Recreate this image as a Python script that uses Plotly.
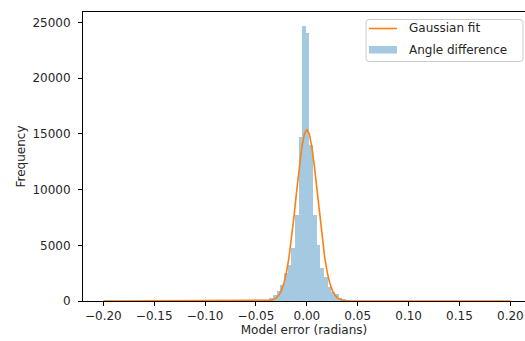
import plotly.graph_objects as go

# Histogram of angle differences (bin centers in radians, counts)
bin_width = 0.0036
bin_centers = [-0.0532, -0.0496, -0.046, -0.0424, -0.0388, -0.0352, -0.0316, -0.028,
               -0.0244, -0.0208, -0.0172, -0.0136, -0.01, -0.0064, -0.0028,
               0.0008, 0.0044, 0.008, 0.0116, 0.0152, 0.0188, 0.0224, 0.026,
               0.0296, 0.0332, 0.0368, 0.0404, 0.044, 0.0476, 0.0512]
bin_counts = [5, 10, 20, 50, 130, 300, 550, 900,
              1400, 2500, 3200, 4800, 7700, 14700, 24700,
              24100, 14000, 7700, 5000, 3000, 2200, 1300, 800,
              600, 300, 180, 80, 40, 20, 8]

# Gaussian fit curve
fit_x = [-0.2, -0.05, -0.045, -0.04, -0.0375, -0.035, -0.0325, -0.03, -0.0275, -0.025,
         -0.0225, -0.02, -0.0175, -0.015, -0.0125, -0.01, -0.0075, -0.005, -0.0025,
         0.0, 0.0025, 0.005, 0.0075, 0.01, 0.0125, 0.015, 0.0175, 0.02, 0.0225,
         0.025, 0.0275, 0.03, 0.0325, 0.035, 0.0375, 0.04, 0.045, 0.05, 0.2]
fit_y = [0, 0, 2, 12, 29, 66, 140, 281, 532, 954,
         1619, 2597, 3941, 5658, 7683, 9869, 11990, 13779, 14978,
         15400, 14978, 13779, 11990, 9869, 7683, 5658, 3941, 2597, 1619,
         954, 532, 281, 140, 66, 29, 12, 2, 0, 0]

x_tickvals = [-0.20, -0.15, -0.10, -0.05, 0.00, 0.05, 0.10, 0.15, 0.20]
x_ticktext = ["\u22120.20", "\u22120.15", "\u22120.10", "\u22120.05", "0.00",
              "0.05", "0.10", "0.15", "0.20"]
y_tickvals = [0, 5000, 10000, 15000, 20000, 25000]
y_ticktext = ["0", "5000", "10000", "15000", "20000", "25000"]

legend_labels = ["Gaussian fit", "Angle difference"]

FONT = "DejaVu Sans"
TXT = "#262626"
FS = 12
LINE_COLOR = "#ff7f0e"
BAR_COLOR = "rgba(31,119,180,0.4)"

W, H = 525, 341
ML, MR, MT, MB = 83, 0, 12, 40
PW, PH = W - ML - MR, H - MT - MB


def px(x):
    return (x - ML) / PW


def py(y):
    return (H - MB - y) / PH


fig = go.Figure()
fig.add_trace(go.Bar(
    x=bin_centers, y=bin_counts, width=bin_width,
    marker=dict(color=BAR_COLOR, line=dict(width=0)),
    name=legend_labels[1], showlegend=False,
))
fig.add_trace(go.Scatter(
    x=fit_x, y=fit_y, mode="lines",
    line=dict(color=LINE_COLOR, width=1.6),
    name=legend_labels[0], showlegend=False,
))

# legend drawn by hand (matplotlib style)
bx0, bx1, by0, by1, r = 366, 523, 19.5, 61.5, 3
path = (f"M {px(bx0 + r)},{py(by0)} L {px(bx1 - r)},{py(by0)} "
        f"Q {px(bx1)},{py(by0)} {px(bx1)},{py(by0 + r)} "
        f"L {px(bx1)},{py(by1 - r)} Q {px(bx1)},{py(by1)} {px(bx1 - r)},{py(by1)} "
        f"L {px(bx0 + r)},{py(by1)} Q {px(bx0)},{py(by1)} {px(bx0)},{py(by1 - r)} "
        f"L {px(bx0)},{py(by0 + r)} Q {px(bx0)},{py(by0)} {px(bx0 + r)},{py(by0)} Z")
shapes = [
    dict(type="path", xref="paper", yref="paper", path=path,
         fillcolor="rgba(255,255,255,0.8)", line=dict(color="#cccccc", width=1)),
    dict(type="line", xref="paper", yref="paper",
         x0=px(369), x1=px(397), y0=py(28.5), y1=py(28.5),
         line=dict(color=LINE_COLOR, width=1.6)),
    dict(type="rect", xref="paper", yref="paper",
         x0=px(369), x1=px(397), y0=py(46), y1=py(53.5),
         fillcolor=BAR_COLOR, line=dict(width=0)),
]
annotations = [
    dict(text=legend_labels[0], xref="paper", yref="paper", x=px(407), y=py(28.5),
         xanchor="left", yanchor="middle", showarrow=False,
         font=dict(family=FONT, size=FS, color=TXT)),
    dict(text=legend_labels[1], xref="paper", yref="paper", x=px(407), y=py(49.5),
         xanchor="left", yanchor="middle", showarrow=False,
         font=dict(family=FONT, size=FS, color=TXT)),
]

fig.update_layout(
    width=W, height=H,
    margin=dict(l=ML, r=MR, t=MT, b=MB, autoexpand=False),
    paper_bgcolor="white", plot_bgcolor="white",
    font=dict(family=FONT, size=FS, color=TXT),
    bargap=0,
    showlegend=False,
    shapes=shapes,
    annotations=annotations,
    xaxis=dict(
        range=[-0.22, 0.2144], tickvals=x_tickvals, ticktext=x_ticktext,
        showgrid=False, zeroline=False,
        showline=True, mirror=True, linecolor="black", linewidth=1,
        ticks="outside", ticklen=4, tickcolor="black", tickwidth=1,
        tickfont=dict(family=FONT, size=FS, color=TXT),
        title=dict(text="Model error (radians)", standoff=3,
                   font=dict(family=FONT, size=FS, color=TXT)),
    ),
    yaxis=dict(
        range=[0, 25950], tickvals=y_tickvals, ticktext=y_ticktext,
        showgrid=False, zeroline=False,
        showline=True, mirror=False, linecolor="black", linewidth=1,
        ticks="outside", ticklen=4, tickcolor="black", tickwidth=1,
        ticklabelstandoff=5,
        tickfont=dict(family=FONT, size=FS, color=TXT),
        title=dict(text="Frequency", standoff=4,
                   font=dict(family=FONT, size=FS, color=TXT)),
    ),
)

fig.write_html(
    "out.html",
    config={"displayModeBar": False},
    post_script="document.body.style.margin='0';document.body.style.overflow='hidden';",
)
